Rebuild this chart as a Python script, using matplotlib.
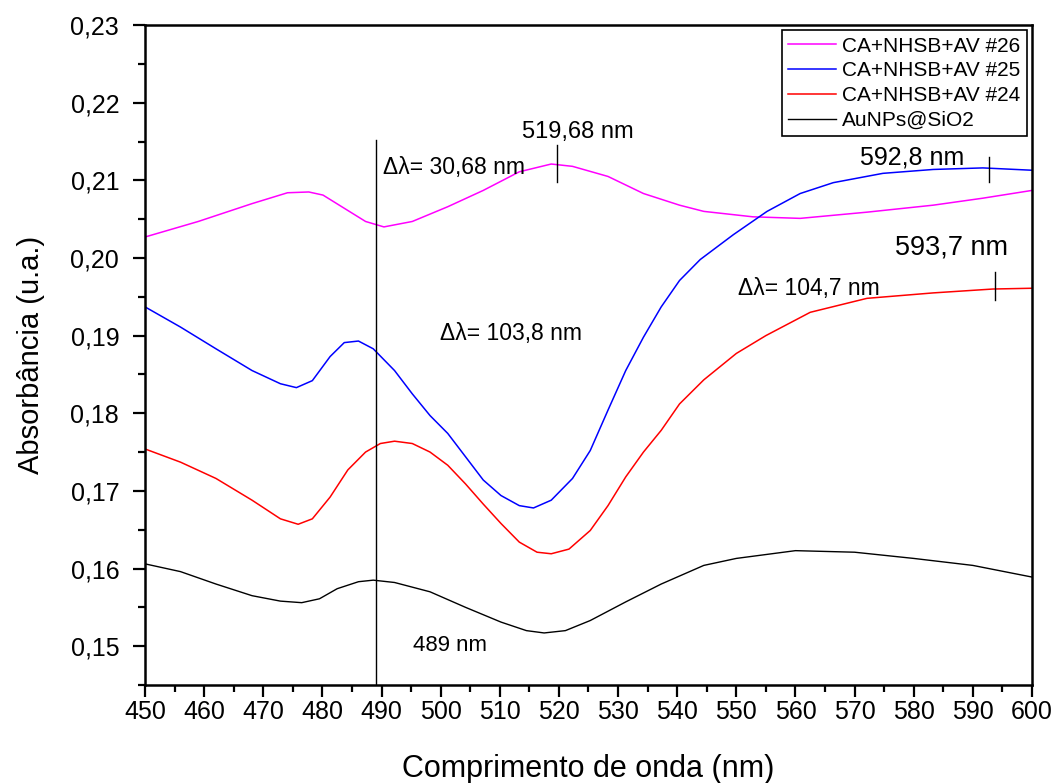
import matplotlib.pyplot as plt
from matplotlib.ticker import MultipleLocator, FuncFormatter

plt.rcParams['font.family'] = ['Liberation Sans', 'DejaVu Sans']

# Absorbance spectra (nm, u.a.)
wl_26 = [450, 459.0, 468.1, 474.1, 477.7, 480.1, 483.7, 487.3, 490.4, 495.2, 501.2, 507.2,
         513.3, 518.7, 522.3, 528.3, 534.3, 540.4, 544.5, 552.8, 560.8, 572.1, 583.3,
         591.7, 600]
abs_26 = [0.2027, 0.2047, 0.2070, 0.2084, 0.2085, 0.2081, 0.2064, 0.2047, 0.2040, 0.2047,
          0.2066, 0.2087, 0.2111, 0.2121, 0.2118, 0.2105, 0.2083, 0.2068, 0.2060, 0.2053,
          0.2051, 0.2059, 0.2068, 0.2077, 0.2087]

wl_25 = [450, 456.0, 462.0, 468.1, 472.9, 475.6, 478.3, 481.3, 483.7, 486.1, 488.6, 492.2,
         495.2, 498.2, 501.2, 504.2, 507.2, 510.2, 513.3, 515.7, 518.7, 522.3, 525.3,
         528.3, 531.3, 534.3, 537.3, 540.4, 543.9, 549.5, 555.2, 560.8, 566.4, 574.8,
         583.3, 591.7, 600]
abs_25 = [0.1937, 0.1911, 0.1883, 0.1855, 0.1838, 0.1833, 0.1842, 0.1873, 0.1891, 0.1893,
          0.1883, 0.1855, 0.1825, 0.1797, 0.1774, 0.1744, 0.1714, 0.1694, 0.1681, 0.1678,
          0.1688, 0.1716, 0.1752, 0.1804, 0.1855, 0.1898, 0.1937, 0.1971, 0.1998, 0.2030,
          0.2060, 0.2083, 0.2097, 0.2109, 0.2114, 0.2116, 0.2113]

wl_24 = [450, 456.0, 462.0, 468.1, 472.9, 475.9, 478.3, 481.3, 484.3, 487.3, 489.8, 492.2,
         495.2, 498.2, 501.2, 504.2, 507.2, 510.2, 513.3, 516.3, 518.7, 521.7, 525.3,
         528.3, 531.3, 534.3, 537.3, 540.4, 544.5, 550, 555, 562.5, 572.1, 583.3, 593.4, 600]
abs_24 = [0.1754, 0.1737, 0.1716, 0.1688, 0.1664, 0.1657, 0.1664, 0.1692, 0.1727, 0.1750,
          0.1761, 0.1764, 0.1761, 0.1750, 0.1733, 0.1709, 0.1683, 0.1658, 0.1634, 0.1621,
          0.1619, 0.1625, 0.1649, 0.1681, 0.1718, 0.1750, 0.1778, 0.1812, 0.1843, 0.1877,
          0.1900, 0.1930, 0.1948, 0.1955, 0.1960, 0.1961]

wl_au = [450, 456.0, 462.0, 468.1, 472.9, 476.5, 479.5, 482.5, 486.1, 488.6, 492.2, 498.2,
         504.2, 510.2, 514.5, 517.5, 521.1, 525.3, 531.3, 537.3, 544.5, 550, 560, 570, 580,
         590, 600]
abs_au = [0.1606, 0.1596, 0.1580, 0.1565, 0.1558, 0.1556, 0.1561, 0.1574, 0.1583, 0.1585,
          0.1582, 0.1570, 0.1550, 0.1531, 0.1520, 0.1517, 0.1520, 0.1533, 0.1557, 0.1580,
          0.1604, 0.1613, 0.1623, 0.1621, 0.1613, 0.1604, 0.1589]

series_labels = ['CA+NHSB+AV #26', 'CA+NHSB+AV #25', 'CA+NHSB+AV #24', 'AuNPs@SiO2']

fig = plt.figure(figsize=(10.57, 7.83), dpi=100)
ax = fig.add_axes([0.1372, 0.1252, 0.8391, 0.8428])

ax.plot(wl_26, abs_26, color='#ff00ff', lw=1.1, label=series_labels[0])
ax.plot(wl_25, abs_25, color='#0000ff', lw=1.1, label=series_labels[1])
ax.plot(wl_24, abs_24, color='#ff0000', lw=1.1, label=series_labels[2])
ax.plot(wl_au, abs_au, color='black', lw=1.0, label=series_labels[3])

# reference line at 489 nm and peak markers
ax.plot([489, 489], [0.145, 0.2152], color='black', lw=1.0)
ax.plot([519.68, 519.68], [0.2098, 0.2145], color='black', lw=1.0)
ax.plot([592.8, 592.8], [0.2098, 0.2130], color='black', lw=1.0)
ax.plot([593.7, 593.7], [0.1946, 0.1982], color='black', lw=1.0)

ax.text(523.2, 0.2162, '519,68 nm', fontsize=17, ha='center', va='center')
ax.text(490.3, 0.2117, 'Δλ= 30,68 nm', fontsize=16.5, ha='left', va='center')
ax.text(570.9, 0.2130, '592,8 nm', fontsize=18, ha='left', va='center')
ax.text(576.8, 0.2013, '593,7 nm', fontsize=19.5, ha='left', va='center')
ax.text(550.3, 0.1961, 'Δλ= 104,7 nm', fontsize=16.5, ha='left', va='center')
ax.text(499.9, 0.1903, 'Δλ= 103,8 nm', fontsize=16.5, ha='left', va='center')
ax.text(495.3, 0.1501, '489 nm', fontsize=16, ha='left', va='center')

ax.set_xlim(450, 600)
ax.set_ylim(0.145, 0.23)
ax.xaxis.set_major_locator(MultipleLocator(10))
ax.xaxis.set_minor_locator(MultipleLocator(5))
ax.yaxis.set_major_locator(MultipleLocator(0.01))
ax.yaxis.set_minor_locator(MultipleLocator(0.005))
ax.yaxis.set_major_formatter(FuncFormatter(lambda v, p: f'{v:.2f}'.replace('.', ',')))

ax.tick_params(which='major', direction='out', length=8.6, width=1.6, labelsize=18)
ax.tick_params(which='minor', direction='out', length=5, width=1.6)
ax.tick_params(axis='x', which='major', pad=2)
ax.tick_params(axis='y', which='major', pad=10)
for s in ax.spines.values():
    s.set_linewidth(1.8)

ax.set_xlabel('Comprimento de onda (nm)', fontsize=22, labelpad=22)
ax.set_ylabel('Absorbância (u.a.)', fontsize=21, labelpad=18)

leg = ax.legend(loc='upper right', fontsize=15, frameon=True, fancybox=False,
                edgecolor='black', framealpha=1, handlelength=2.3,
                borderpad=0.3, labelspacing=0.28, handletextpad=0.3,
                borderaxespad=0.25)
leg.get_frame().set_linewidth(1.2)

fig.savefig('out.png', dpi=100)
